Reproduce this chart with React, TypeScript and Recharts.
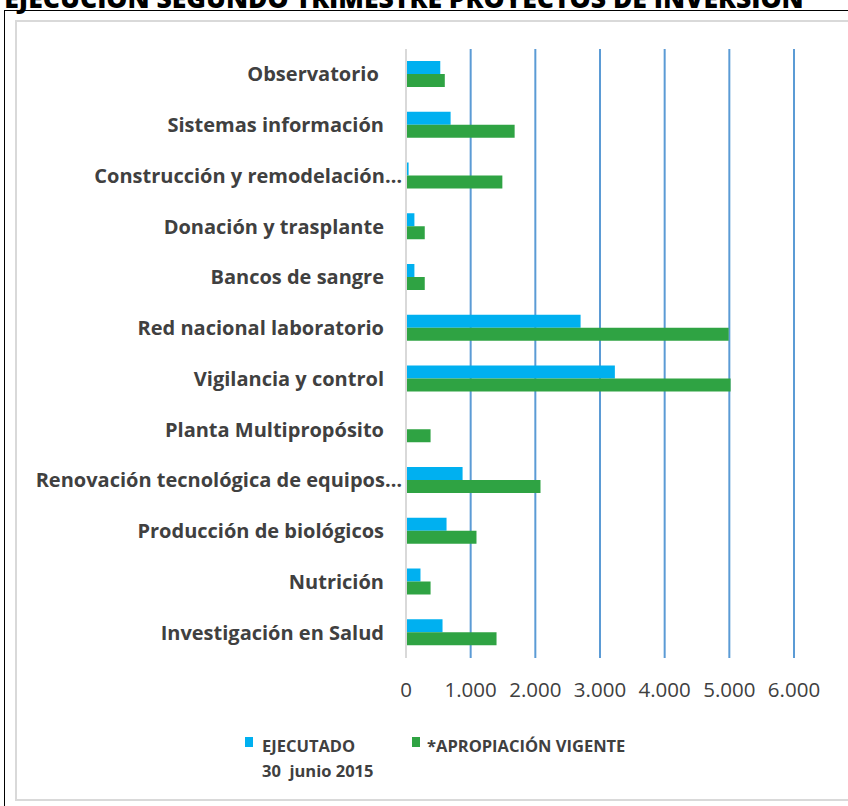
import React from 'react';
import { BarChart, Bar, XAxis, YAxis, CartesianGrid } from 'recharts';

const categories = [
  'Observatorio ',
  'Sistemas información',
  'Construcción y remodelación…',
  'Donación y trasplante',
  'Bancos de sangre',
  'Red nacional laboratorio',
  'Vigilancia y control',
  'Planta Multipropósito',
  'Renovación tecnológica de equipos…',
  'Producción de biológicos',
  'Nutrición',
  'Investigación en Salud',
];
const ejecutado = [530, 690, 40, 130, 130, 2700, 3230, 0, 875, 627, 224, 565];
const apropiacion = [600, 1680, 1490, 290, 290, 4990, 5020, 380, 2080, 1090, 380, 1400];
const xTicks = [0, 1000, 2000, 3000, 4000, 5000, 6000];
const title = 'EJECUCIÓN SEGUNDO TRIMESTRE PROYECTOS DE INVERSIÓN';
const seriesNames = ['EJECUTADO', '*APROPIACIÓN VIGENTE'];
const ejecutadoSub = '30  junio 2015';

const data = categories.map((c, i) => ({ name: c, ejecutado: ejecutado[i], apropiacion: apropiacion[i] }));

const BLUE = '#00B0F0';
const GREEN = '#2FA343';
const TEXT = '#404040';
const FONT = '"Open Sans", Lato, sans-serif';

const fmt = (v: number) => String(v).replace(/\B(?=(\d{3})+(?!\d))/g, '.');

const CatTick = (props: any) => {
  const { y, payload } = props;
  const v: string = payload.value;
  const endX = v.endsWith('…') ? 402 : 384;
  return (
    <text x={endX} y={y} dy="0.35em" textAnchor="end" fill={TEXT} fontSize={20} fontWeight={700} fontFamily={FONT} style={{ whiteSpace: 'pre' }}>
      {v}
    </text>
  );
};

const LegendBox = () => (
  <div style={{ position: 'absolute', left: 0, top: 737, width: 848, height: 60, fontFamily: FONT, fontWeight: 700, fontSize: 16.5, color: TEXT }}>
    <div style={{ position: 'absolute', left: 245, top: 0, width: 8, height: 10, background: BLUE }} />
    <div style={{ position: 'absolute', left: 262, top: -4, lineHeight: '25px', whiteSpace: 'pre' }}>
      {seriesNames[0]}
      <br />
      {ejecutadoSub}
    </div>
    <div style={{ position: 'absolute', left: 412, top: 0, width: 8, height: 10, background: GREEN }} />
    <div style={{ position: 'absolute', left: 427, top: -4, lineHeight: '25px', whiteSpace: 'pre' }}>{seriesNames[1]}</div>
  </div>
);

export default function App() {
  return (
    <div style={{ position: 'absolute', left: 0, top: 0, width: 848, height: 806, overflow: 'hidden', background: '#fff' }}>
      <div style={{ position: 'absolute', left: 0, top: -17, width: 808, textAlign: 'center', fontFamily: FONT, fontWeight: 800, fontSize: 26.5, color: '#000', whiteSpace: 'nowrap', lineHeight: '30px' }}>
        {title}
      </div>
      <div style={{ position: 'absolute', left: 4, top: 10, width: 900, height: 900, border: '1.5px solid #000', boxSizing: 'border-box' }} />
      <div style={{ position: 'absolute', left: 15, top: 20, width: 900, height: 781, border: '2px solid #D9D9D9', boxSizing: 'border-box' }} />
      <div style={{ position: 'absolute', left: 0, top: 0 }}>
        <BarChart
          width={848}
          height={806}
          data={data}
          layout="vertical"
          margin={{ top: 49, right: 54, bottom: 0, left: 0 }}
          barSize={13}
          barGap={0}
        >
          <CartesianGrid horizontal={false} vertical stroke="#5B9BD5" strokeWidth={2} />
          <XAxis
            type="number"
            domain={[0, 6000]}
            ticks={xTicks}
            tickFormatter={fmt}
            axisLine={false}
            tickLine={false}
            tickSize={0}
            tickMargin={24}
            height={148}
            interval={0}
            tick={{ fill: TEXT, fontSize: 20.5, fontFamily: FONT }}
          />
          <YAxis
            type="category"
            dataKey="name"
            width={406}
            axisLine={{ stroke: '#D9D9D9', strokeWidth: 2 }}
            tickLine={false}
            interval={0}
            tick={<CatTick />}
          />
          <Bar dataKey="ejecutado" name={seriesNames[0]} fill={BLUE} isAnimationActive={false} />
          <Bar dataKey="apropiacion" name={seriesNames[1]} fill={GREEN} isAnimationActive={false} />
        </BarChart>
      </div>
      <LegendBox />
    </div>
  );
}
